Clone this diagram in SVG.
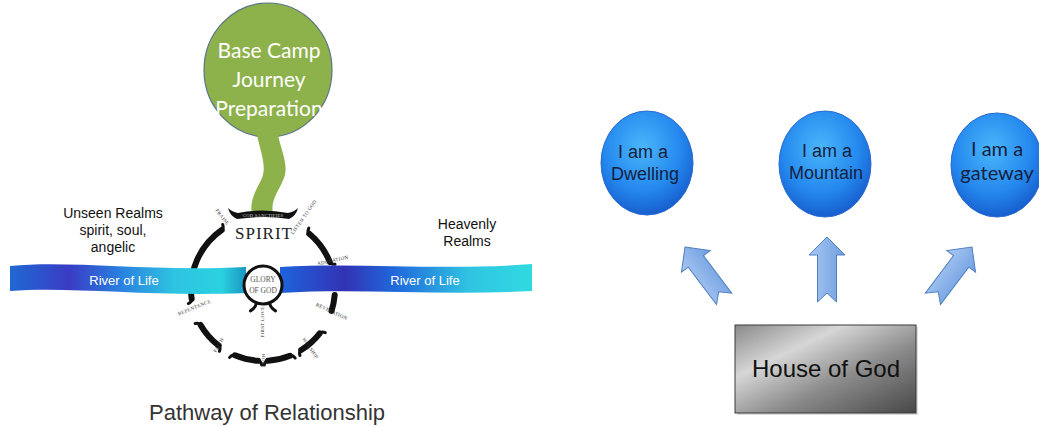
<svg xmlns="http://www.w3.org/2000/svg" width="1039" height="427" viewBox="0 0 1039 427">
<defs>
<style>
.lbl{font-family:"Liberation Sans",Arial,sans-serif;fill:#111;text-anchor:middle}
.ring{fill:none;stroke:#111;stroke-width:6;stroke-linecap:round}
.tiny{font-family:"Liberation Serif",serif;font-size:5px;fill:#333;text-anchor:middle;letter-spacing:0.3px}
.bc{font-family:"Liberation Sans",Arial,sans-serif;font-size:18px;fill:#15223f;text-anchor:middle}
.gc{font-family:Lato,"Open Sans",sans-serif;font-size:21px;fill:#fff;text-anchor:middle}
.riv{font-family:"Liberation Sans",Arial,sans-serif;font-size:13px;fill:#fff;text-anchor:middle}
.arrow{fill:url(#gArrow);stroke:#4f7fc0;stroke-width:1}
</style>
<linearGradient id="gRivL" x1="10" y1="0" x2="245" y2="0" gradientUnits="userSpaceOnUse">
<stop offset="0" stop-color="#2068d4"/>
<stop offset="0.25" stop-color="#3a3cc4"/>
<stop offset="0.45" stop-color="#2a7ade"/>
<stop offset="0.7" stop-color="#2ec4e2"/>
<stop offset="0.9" stop-color="#2ad2e0"/>
<stop offset="1" stop-color="#1a98c4"/>
</linearGradient>
<linearGradient id="gRivR" x1="282" y1="0" x2="532" y2="0" gradientUnits="userSpaceOnUse">
<stop offset="0" stop-color="#1f62dc"/>
<stop offset="0.25" stop-color="#3232b4"/>
<stop offset="0.45" stop-color="#2068dc"/>
<stop offset="0.75" stop-color="#30c4e2"/>
<stop offset="1" stop-color="#30dae2"/>
</linearGradient>
<radialGradient id="gBlue" cx="0.45" cy="0.35" r="0.7">
<stop offset="0" stop-color="#4ab6fa"/>
<stop offset="0.6" stop-color="#2488ee"/>
<stop offset="1" stop-color="#1556c6"/>
</radialGradient>
<linearGradient id="gArrow" x1="0" y1="0" x2="1" y2="0">
<stop offset="0" stop-color="#a9c8f2"/>
<stop offset="1" stop-color="#6f9ee0"/>
</linearGradient>
<linearGradient id="gBox" x1="0" y1="0" x2="1" y2="1">
<stop offset="0" stop-color="#8a8a8a"/>
<stop offset="0.3" stop-color="#d6d6d6"/>
<stop offset="0.6" stop-color="#8c8c8c"/>
<stop offset="1" stop-color="#474747"/>
</linearGradient>
<marker id="he" markerUnits="userSpaceOnUse" orient="auto" markerWidth="12" markerHeight="12" refX="0" refY="0" overflow="visible">
<path d="M0,0 q3,0 4,-4" fill="none" stroke="#111" stroke-width="3" stroke-linecap="round"/>
</marker>
<marker id="hs" markerUnits="userSpaceOnUse" orient="auto-start-reverse" markerWidth="12" markerHeight="12" refX="0" refY="0" overflow="visible">
<path d="M0,0 q3,0 4,4" fill="none" stroke="#111" stroke-width="3" stroke-linecap="round"/>
</marker>
<path id="arr" d="M0,0 L18,18 L9.5,18 L9.5,65 L0,56 L-9.5,65 L-9.5,18 L-18,18 Z"/>
</defs>
<rect width="1039" height="427" fill="#fff"/>

<g id="base-camp">
<ellipse cx="268" cy="70" rx="64" ry="67" fill="#8db14b" stroke="#5b7487" stroke-width="1.2"/>
<text x="269" y="58" class="gc">Base Camp</text>
<text x="269" y="87" class="gc">Journey</text>
<text x="269" y="116" class="gc">Preparation</text>
</g>

<g id="connectors">
<path id="stem" d="M257,135 L278,135 C281,150 289,165 284,178 C279,191 270,200 273,214 L252,214 C249,200 257,189 262,178 C267,166 260,150 257,135 Z" fill="#8db14b"/>
<use href="#arr" class="arrow" transform="translate(685,247) rotate(-37)"/>
<use href="#arr" class="arrow" transform="translate(827,237)"/>
<use href="#arr" class="arrow" transform="translate(972,247) rotate(37)"/>
</g>

<g id="pathway-ring">
<path class="ring" marker-start="url(#hs)" marker-end="url(#he)" d="M191.7,299 A72,72 0 0 1 221.7,230"/>
<path class="ring" marker-start="url(#hs)" marker-end="url(#he)" d="M309.3,233.8 A72,72 0 0 1 329.8,262"/>
<path class="ring" d="M334.7,295 A72,72 0 0 1 331.5,311"/>
<path class="ring" marker-start="url(#hs)" marker-end="url(#he)" d="M319.7,333.3 A72,72 0 0 1 301.2,350"/>
<path class="ring" marker-start="url(#hs)" marker-end="url(#he)" d="M290,355.8 A72,72 0 0 1 268,360.8"/>
<path class="ring" marker-start="url(#hs)" marker-end="url(#he)" d="M258,360.8 A72,72 0 0 1 234.9,355.3"/>
<path class="ring" marker-start="url(#hs)" marker-end="url(#he)" d="M218.7,345.7 A72,72 0 0 1 200.6,325"/>
<path d="M228,208 q4,4 10,5 q24,-5 50,0 q6,-1 10,-5 q-2,8 -9,11 q-24,-4 -52,0 q-7,-3 -9,-11 Z" fill="#111"/>
<text x="263" y="216.5" class="tiny" style="fill:#ccc;font-size:4.5px">GOD SANCTIFIES</text>
<text x="264" y="239" font-family="'Liberation Serif',serif" font-size="17" fill="#222" text-anchor="middle" letter-spacing="1">SPIRIT</text>
<text class="tiny" transform="translate(221,218) rotate(52)">PRAISE</text>
<text class="tiny" transform="translate(305,218) rotate(-55)">LISTEN TO GOD</text>
<text class="tiny" transform="translate(333,262) rotate(-12)">ADORATION</text>
<text class="tiny" transform="translate(331,313) rotate(25)">REVELATION</text>
<text class="tiny" transform="translate(309,349) rotate(55)">WORSHIP</text>
<text class="tiny" transform="translate(262,361) rotate(90)">HOPE</text>
<text class="tiny" transform="translate(220,346) rotate(-60)">FAITH</text>
<text class="tiny" transform="translate(195,309) rotate(-22)">REPENTANCE</text>
</g>

<g id="river-left">
<path d="M10,266 C70,260 150,272 246,267 L246,293 C150,297 70,286 10,291 Z" fill="url(#gRivL)"/>
<text x="124" y="285" class="riv">River of Life</text>
</g>
<g id="river-right">
<path d="M280,267 C360,262 440,271 532,264 L532,291 C440,296 360,288 280,293 Z" fill="url(#gRivR)"/>
<text x="425" y="285" class="riv">River of Life</text>
</g>

<g id="glory-of-god">
<circle cx="263" cy="285" r="19" fill="#fff" stroke="#111" stroke-width="3"/>
<path d="M256.5,302.9 q-1,5 -6,8 M269.5,302.9 q1,5 6,8" fill="none" stroke="#111" stroke-width="3" stroke-linecap="round"/>
<text x="263" y="282" font-family="'Liberation Serif',serif" font-size="7.5" fill="#555" text-anchor="middle">GLORY</text>
<text x="263" y="293" font-family="'Liberation Serif',serif" font-size="7.5" fill="#555" text-anchor="middle">OF GOD</text>
<text class="tiny" transform="translate(264,322) rotate(-90)">FIRST LOVE</text>
</g>

<g id="unseen-realms">
<text class="lbl" x="113" y="218" font-size="14">Unseen Realms</text>
<text class="lbl" x="113" y="235" font-size="14">spirit, soul,</text>
<text class="lbl" x="113" y="252" font-size="14">angelic</text>
</g>
<g id="heavenly-realms">
<text class="lbl" x="467" y="229" font-size="14">Heavenly</text>
<text class="lbl" x="467" y="246" font-size="14">Realms</text>
</g>
<g id="title">
<text class="lbl" x="267" y="420" font-size="22" style="fill:#333">Pathway of Relationship</text>
</g>

<g id="dwelling">
<ellipse cx="647" cy="163" rx="46" ry="52" fill="url(#gBlue)" stroke="#2a6ad0" stroke-width="1"/>
<text class="bc" x="643" y="158">I am a</text>
<text class="bc" x="645" y="180">Dwelling</text>
</g>
<g id="mountain">
<ellipse cx="825" cy="164" rx="46" ry="53" fill="url(#gBlue)" stroke="#2a6ad0" stroke-width="1"/>
<text class="bc" x="827" y="157">I am a</text>
<text class="bc" x="826" y="179">Mountain</text>
</g>
<g id="gateway">
<ellipse cx="997" cy="165" rx="46" ry="52" fill="url(#gBlue)" stroke="#2a6ad0" stroke-width="1"/>
<text x="997" y="156" font-family="Lato,'Open Sans',sans-serif" font-size="20" fill="#15223f" text-anchor="middle">I am a</text>
<text x="997" y="180" font-family="Lato,'Open Sans',sans-serif" font-size="20" fill="#15223f" text-anchor="middle">gateway</text>
</g>
<g id="house-of-god">
<rect x="737" y="327" width="181" height="88" fill="#bbb" opacity="0.5"/>
<rect x="735" y="325" width="181" height="88" fill="url(#gBox)" stroke="#3a3a3a" stroke-width="1"/>
<text class="lbl" x="826" y="377" font-size="24">House of God</text>
</g>
</svg>
